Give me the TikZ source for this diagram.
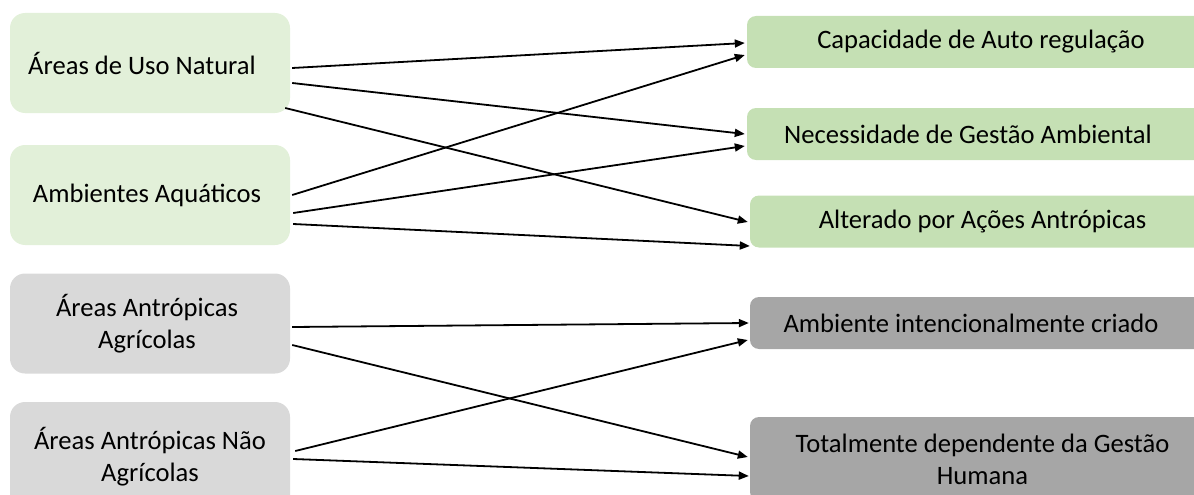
\documentclass[tikz,border=0pt]{standalone}
\usepackage{fontspec}
\setmainfont{Carlito}
\usetikzlibrary{arrows.meta,calc}
\definecolor{lgreen}{HTML}{E2F0D9}
\definecolor{dgreen}{HTML}{C5E0B4}
\definecolor{lgray}{HTML}{D9D9D9}
\definecolor{dgray}{HTML}{A6A6A6}
\tikzset{
  box/.style={rounded corners=15pt, inner sep=0pt, align=center,
    font=\fontsize{26.6}{32}\selectfont, text=black},
  lbox/.style={box, minimum width=280pt, minimum height=100pt},
  rbox/.style={box, minimum width=468pt, minimum height=52pt, rounded corners=9pt},
  conn/.style={line width=1.8pt, -{Triangle[length=10pt,width=8pt]}, black},
}
\begin{document}
\begin{tikzpicture}[x=1pt,y=-1pt]
\useasboundingbox (0,0) rectangle (1194,495);
\clip (0,0) rectangle (1194,495);
\node[lbox, fill=lgreen] (L1) at (150,63) {Áreas de Uso Natural\hspace*{16pt}};
\node[lbox, fill=lgreen] (L2) at (150,195) {Ambientes Aquáticos\hspace*{6pt}};
\node[lbox, fill=lgray] (L3) at (150,323.5) {Áreas Antrópicas\hspace*{6pt}\\Agrícolas\hspace*{6pt}};
\node[lbox, fill=lgray, minimum height=110pt] (L4) at (150,457) {Áreas Antrópicas Não\\Agrícolas};
\node[rbox, fill=dgreen] (R1) at (981,42) {Capacidade de Auto regulação};
\node[rbox, fill=dgreen] (R2) at (981,134) {Necessidade de Gestão Ambiental\hspace*{26pt}};
\node[rbox, fill=dgreen, minimum width=465pt] (R3) at (982.5,221.5) {Alterado por Ações Antrópicas};
\node[rbox, fill=dgray, minimum width=465pt] (R4) at (982.5,323) {Ambiente intencionalmente criado\hspace*{23pt}};
\node[rbox, fill=dgray, minimum width=465pt, minimum height=84pt] (R5) at (982.5,459) {Totalmente dependente da Gestão\\Humana};
\draw[conn] ($(L1.east)+(2,5)$) -- ($(R1.west)+(-2,1)$);
\draw[conn] ($(L1.east)+(2,20)$) -- ($(R2.west)+(-2,0)$);
\draw[conn] ($(L1.east)+(-5,45)$) -- ($(R3.west)+(-2,0.5)$);
\draw[conn] ($(L2.east)+(2,0)$) -- ($(R1.west)+(-2,13)$);
\draw[conn] ($(L2.east)+(3,18)$) -- ($(R2.west)+(-2,12)$);
\draw[conn] ($(L2.east)+(3,29)$) -- ($(R3.west)+(0,24.5)$);
\draw[conn] ($(L3.east)+(2,3.5)$) -- ($(R4.west)+(-1,0)$);
\draw[conn] ($(L3.east)+(2,21.5)$) -- ($(R5.west)+(-2,-2)$);
\draw[conn] ($(L4.east)+(5,-6)$) -- ($(R4.west)+(-2,17)$);
\draw[conn] ($(L4.east)+(3,2)$) -- ($(R5.west)+(-1,17)$);
\end{tikzpicture}
\end{document}
